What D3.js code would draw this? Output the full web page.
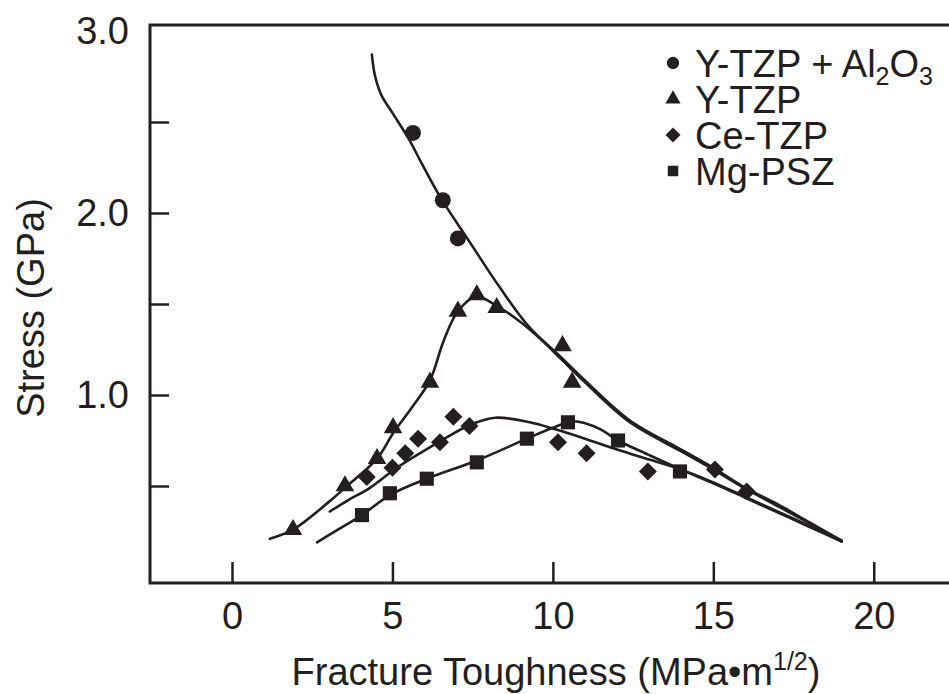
<!DOCTYPE html>
<html>
<head>
<meta charset="utf-8">
<script src="https://cdn.jsdelivr.net/npm/d3@7"></script>
<style>
  body { margin: 0; background: #fff; }
  svg { display: block; font-family: "Liberation Sans", Arial, Helvetica, sans-serif; }
</style>
</head>
<body>
<div id="chart"></div>
<script>
// ---- data ----
// measured points (toughness MPa*m^1/2, stress GPa)
var alumPoints = [[5.64, 2.44], [6.57, 2.07], [7.04, 1.86]];
var ytzpPoints = [[1.9, 0.26], [3.52, 0.50], [4.52, 0.65], [5.02, 0.82], [6.17, 1.07],
                  [7.04, 1.46], [7.63, 1.55], [8.25, 1.48], [10.3, 1.27], [10.6, 1.07]];
var cePoints = [[4.2, 0.55], [5.0, 0.60], [5.4, 0.68], [5.8, 0.76], [6.48, 0.74], [6.9, 0.88],
                [7.4, 0.83], [10.16, 0.74], [11.05, 0.68], [12.96, 0.58], [15.05, 0.59], [16.04, 0.47]];
var mgPoints = [[4.05, 0.34], [4.92, 0.46], [6.07, 0.54], [7.63, 0.63], [9.19, 0.76],
                [10.47, 0.85], [12.03, 0.75], [13.96, 0.58]];

// hand-drawn trend curves
var alumCurve = [[4.36, 2.87], [4.45, 2.76], [4.65, 2.65], [5.0, 2.55], [5.5, 2.41], [5.92, 2.27],
                 [6.48, 2.09], [7.41, 1.84], [8.35, 1.59], [9.28, 1.37], [10.3, 1.2], [11, 1.08],
                 [12.4, 0.86], [14, 0.7], [15, 0.6], [16, 0.49], [17, 0.4], [18, 0.3], [19, 0.2]];
var ytzpCurve = [[1.18, 0.21], [1.9, 0.26], [3.0, 0.41], [3.52, 0.49], [4.52, 0.65], [5.02, 0.79],
                 [5.6, 0.93], [6.17, 1.08], [6.6, 1.3], [7.04, 1.46], [7.6, 1.54], [8.25, 1.49],
                 [9.0, 1.40], [9.6, 1.31], [10.3, 1.19], [11, 1.07], [12.4, 0.85], [14, 0.69],
                 [15, 0.59], [16, 0.485], [17, 0.39], [18, 0.295], [19, 0.195]];
var ceCurve = [[3.05, 0.36], [3.6, 0.42], [4.3, 0.49], [5.14, 0.60], [6.39, 0.735], [7.41, 0.835],
               [8.2, 0.875], [9.28, 0.85], [10.1, 0.81], [11, 0.76], [12, 0.70], [13, 0.645],
               [14, 0.59], [15, 0.52], [16, 0.44], [17, 0.36], [18, 0.28], [19, 0.2]];
var mgCurve = [[2.65, 0.19], [3.3, 0.26], [4.05, 0.34], [4.92, 0.45], [6.07, 0.54], [7.63, 0.64],
               [9.19, 0.76], [10, 0.82], [10.6, 0.855], [11, 0.845], [11.5, 0.81], [12.03, 0.75],
               [13, 0.67], [14, 0.59], [15, 0.515], [16, 0.435], [17, 0.355], [18, 0.275], [19, 0.195]];

var legendNames = ['Y-TZP + Al2O3', 'Y-TZP', 'Ce-TZP', 'Mg-PSZ'];
var xTicks = [0, 5, 10, 15, 20];
var yTicks = [0.5, 1.0, 1.5, 2.0, 2.5, 3.0];

// ---- layout ----
var width = 949, height = 694;
var ink = '#231f20';
var fontSize = 38;

var svg = d3.select('#chart').append('svg')
  .attr('width', width)
  .attr('height', height);

var x = d3.scaleLinear().domain([-2.555, 22.5]).range([150, 954]);
var y = d3.scaleLinear().domain([-0.033, 3.033]).range([583, 25]);

// frame (right side runs off the picture)
svg.append('path')
  .attr('d', 'M' + x.range()[1] + ',' + y.range()[1] + 'H' + x.range()[0] +
             'V' + y.range()[0] + 'H' + x.range()[1])
  .attr('fill', 'none')
  .attr('stroke', ink)
  .attr('stroke-width', 3);

var xAxis = svg.append('g')
  .attr('transform', 'translate(0,' + y.range()[0] + ')')
  .call(d3.axisBottom(x).tickValues(xTicks).tickSizeInner(-21).tickSizeOuter(0).tickPadding(19));

var yAxis = svg.append('g')
  .attr('transform', 'translate(' + x.range()[0] + ',0)')
  .call(d3.axisLeft(y).tickValues(yTicks).tickSizeInner(-19).tickSizeOuter(0).tickPadding(21)
    .tickFormat(function (d) { return d % 1 === 0 ? d3.format('.1f')(d) : ''; }));

[xAxis, yAxis].forEach(function (g) {
  g.select('.domain').remove();
  g.selectAll('line').attr('stroke', ink).attr('stroke-width', 2.5);
  g.selectAll('text')
    .attr('fill', ink)
    .style('font-size', fontSize + 'px')
    .style('font-family', '"Liberation Sans", Arial, sans-serif');
});
// the 3.0 label sits on the top edge, no tick mark there
yAxis.selectAll('.tick').filter(function (d) { return d === 3; }).select('line').remove();

// axis titles
svg.append('text')
  .attr('transform', 'translate(44,308) rotate(-90)')
  .attr('text-anchor', 'middle')
  .attr('fill', ink)
  .style('font-size', fontSize + 'px')
  .text('Stress (GPa)');

var xt = svg.append('text')
  .attr('x', 556)
  .attr('y', 685)
  .attr('text-anchor', 'middle')
  .attr('fill', ink)
  .style('font-size', fontSize + 'px');
xt.append('tspan').text('Fracture Toughness (MPa\u2022m');
xt.append('tspan').attr('dy', -15).style('font-size', '25px').text('1/2');
xt.append('tspan').attr('dy', 15).text(')');

// ---- curves ----
var line = d3.line()
  .x(function (d) { return x(d[0]); })
  .y(function (d) { return y(d[1]); })
  .curve(d3.curveCatmullRom.alpha(0.5));

[alumCurve, ytzpCurve, ceCurve, mgCurve].forEach(function (c) {
  svg.append('path')
    .datum(c)
    .attr('d', line)
    .attr('fill', 'none')
    .attr('stroke', ink)
    .attr('stroke-width', 2.6)
    .attr('stroke-linecap', 'round');
});

// ---- markers ----
function diamond(s) {
  return 'M0,' + (-s) + 'L' + s + ',0L0,' + s + 'L' + (-s) + ',0Z';
}

var symbols = [
  d3.symbol().type(d3.symbolCircle).size(200)(),
  d3.symbol().type(d3.symbolTriangle).size(150)(),
  diamond(9),
  d3.symbol().type(d3.symbolSquare).size(200)()
];

function drawMarks(pts, k) {
  svg.append('g').selectAll('path')
    .data(pts)
    .join('path')
    .attr('transform', function (d) { return 'translate(' + x(d[0]) + ',' + y(d[1]) + ')'; })
    .attr('d', symbols[k])
    .attr('fill', ink);
}

drawMarks(alumPoints, 0);
drawMarks(ytzpPoints, 1);
drawMarks(cePoints, 2);
drawMarks(mgPoints, 3);

// ---- legend ----
var legendMarks = [
  d3.symbol().type(d3.symbolCircle).size(120)(),
  d3.symbol().type(d3.symbolTriangle).size(100)(),
  diamond(7.5),
  d3.symbol().type(d3.symbolSquare).size(110)()
];

var legend = svg.append('g').attr('transform', 'translate(673,0)');
legendNames.forEach(function (name, i) {
  var base = 77 + i * 36;
  legend.append('path')
    .attr('transform', 'translate(0,' + (base - 14) + ')')
    .attr('d', legendMarks[i])
    .attr('fill', ink);
  var t = legend.append('text')
    .attr('x', 22)
    .attr('y', base)
    .attr('fill', ink)
    .style('font-size', fontSize + 'px');
  if (name === 'Y-TZP + Al2O3') {
    t.append('tspan').text('Y-TZP + Al');
    t.append('tspan').attr('dy', 8).style('font-size', '25px').text('2');
    t.append('tspan').attr('dy', -8).text('O');
    t.append('tspan').attr('dy', 8).style('font-size', '25px').text('3');
  } else {
    t.text(name);
  }
});
</script>
</body>
</html>
